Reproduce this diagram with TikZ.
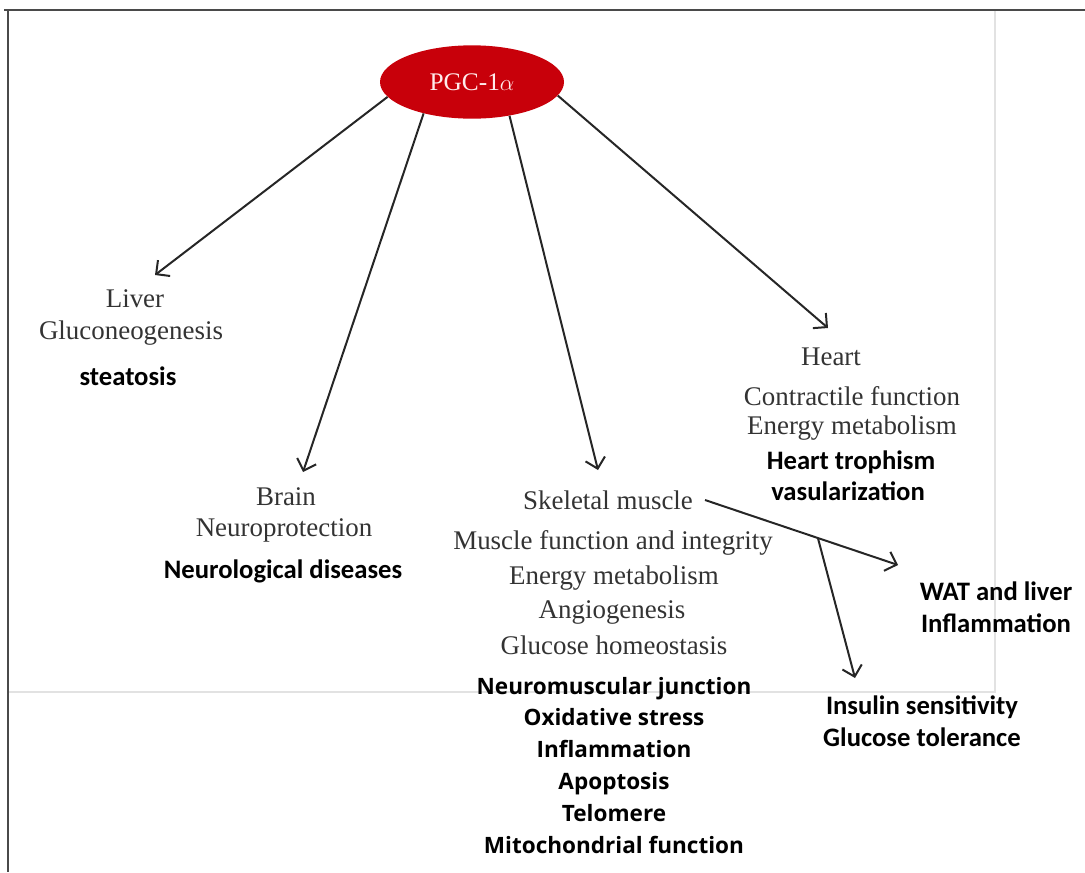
\documentclass[tikz,border=0pt]{standalone}
\usepackage{fontspec}
\setmainfont{Liberation Serif}
\newfontfamily\calb{Carlito}
\newfontfamily\osb{Open Sans}
\usetikzlibrary{arrows.meta,shapes.geometric}
\definecolor{txtgray}{HTML}{333333}
\definecolor{pgcred}{HTML}{C8000A}
\definecolor{frameline}{HTML}{4A4A4A}
\definecolor{lightline}{HTML}{E2E2E2}
\tikzset{
  serif/.style={font=\fontsize{20.2}{24}\selectfont, text=txtgray, inner sep=0pt, text height=0.68em, text depth=0.2em},
  calbold/.style={font=\calb\bfseries\fontsize{20}{24}\selectfont, inner sep=0pt, text height=0.68em, text depth=0.2em},
  listbold/.style={font=\osb\bfseries\fontsize{16.9}{20}\selectfont, inner sep=0pt, text height=0.68em, text depth=0.2em},
  arr/.style={-{Straight Barb[length=7.5pt,width=15pt,line width=1.5pt]}, line width=1.5pt, draw=black!85},
}
\begin{document}
\begin{tikzpicture}[x=0.75pt,y=-0.75pt]
\useasboundingbox (0,0) rectangle (1085,872);
% frame
\draw[lightline, line width=0.8pt] (995,10) -- (995,692) -- (8,692);
\draw[frameline, line width=1.5pt] (4,10) -- (1085,10);
\draw[frameline, line width=1.6pt] (8,10) -- (8,872);

% central node
\node[ellipse, fill=pgcred, minimum width=138pt, minimum height=55pt, inner sep=0pt,
      text=white!92!red, font=\fontsize{19}{22}\selectfont] (pgc) at (472,82) {PGC-1$\alpha$};

% arrow targets
\coordinate (tLiver) at (155,275);
\coordinate (tBrain) at (303,472);
\coordinate (tMuscle) at (598,470);
\coordinate (tHeart) at (828,328);

\draw[arr] (pgc.190) -- (tLiver);
\draw[arr] (pgc.213) -- (tBrain);
\draw[arr] (pgc.318) -- (tMuscle);
\draw[arr] (pgc.351) -- (tHeart);

% Liver
\node[serif] (liver) at (135,304) {Liver};
\node[serif] (gluco) at (131,336) {Gluconeogenesis};
\node[calbold] (steat) at (128,382) {steatosis};

% Brain
\node[serif] (brain) at (286,502) {Brain};
\node[serif] (neurop) at (284,533) {Neuroprotection};
\node[calbold] (neurod) at (283,575) {Neurological diseases};

% Heart
\node[serif] (heart) at (831,362) {Heart};
\node[serif] (contr) at (852,402) {Contractile function};
\node[serif] (energyH) at (852,431) {Energy metabolism};
\node[calbold] (troph) at (851,466) {Heart trophism};
\node[calbold] (vasc) at (848,497) {vasularization};

% Skeletal muscle
\node[serif] (skel) at (608,506) {Skeletal muscle};
\node[serif] (mfi) at (613,546) {Muscle function and integrity};
\node[serif] (energyM) at (614,581) {Energy metabolism};
\node[serif] (angio) at (612,615) {Angiogenesis};
\node[serif] (glucH) at (614,651) {Glucose homeostasis};

\node[listbold] (nmj) at (614,691) {Neuromuscular junction};
\node[listbold] (oxs) at (614,722) {Oxidative stress};
\node[listbold] (infl) at (614,754) {Inflammation};
\node[listbold] (apop) at (614,786) {Apoptosis};
\node[listbold] (telo) at (614,818) {Telomere};
\node[listbold] (mito) at (614,850) {Mitochondrial function};

% WAT / insulin
\node[calbold] (wat) at (996,597) {WAT and liver};
\node[calbold] (watinf) at (996,629) {Inflammation};
\node[calbold] (ins) at (922,711) {Insulin sensitivity};
\node[calbold] (glt) at (922,743) {Glucose tolerance};

% secondary arrows
\coordinate (sStart) at (705,500);
\coordinate (sEnd) at (898,565);
\coordinate (sInsul) at (855,678);
\draw[arr] (sStart) -- coordinate[pos=0.585] (branch) (sEnd);
\draw[arr] (branch) -- (sInsul);
\end{tikzpicture}
\end{document}
